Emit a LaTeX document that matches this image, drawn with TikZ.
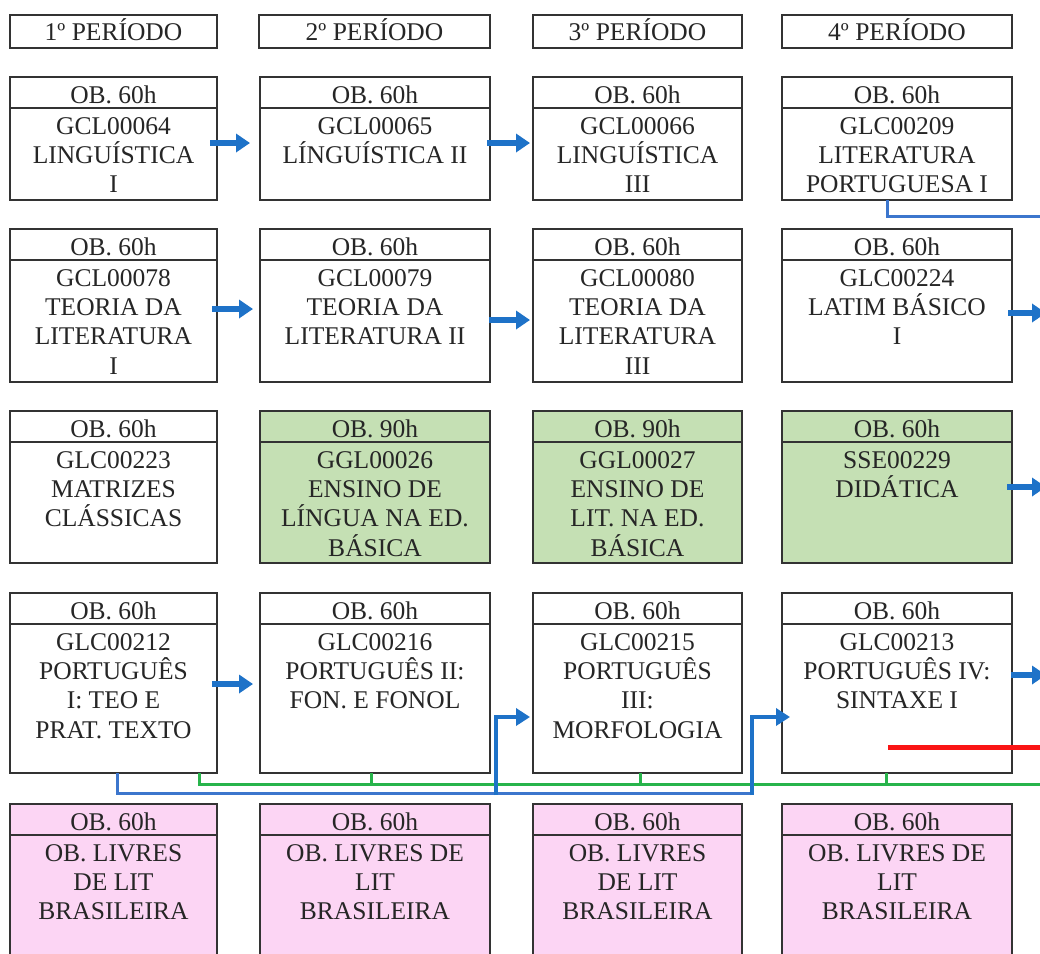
\documentclass[tikz,border=0pt]{standalone}
\usepackage{fontspec}
\setmainfont{Liberation Serif}
\usetikzlibrary{arrows.meta,calc}
\definecolor{arrowblue}{RGB}{30,114,200}
\definecolor{lineblue}{RGB}{60,118,205}
\definecolor{linegreen}{RGB}{40,180,75}
\definecolor{cgreen}{RGB}{197,224,180}
\definecolor{cpink}{RGB}{252,213,244}
\definecolor{cred}{RGB}{250,20,20}
\tikzset{
  cbox/.style={rectangle, draw=black!80, line width=2.1pt, outer sep=0pt, inner sep=0pt},
  cbord/.style={draw=black!80, line width=2.1pt},
  ctext/.style={font=\fontsize{25.5}{29.3}\selectfont, inner sep=0pt, text=black!85},
  pbox/.style={cbox, fill=white, font=\fontsize{25.5}{29.3}\selectfont, text=black!85, text height=17pt, text depth=0pt},
  barrow/.style={draw=arrowblue, line width=5.5pt, -{Triangle[length=14pt,width=18pt]}},
  belbow/.style={draw=arrowblue, line width=4pt, -{Triangle[length=14pt,width=17pt]}},
  bline/.style={draw=lineblue, line width=3pt},
  gline/.style={draw=linegreen, line width=3pt},
  rline/.style={draw=cred, line width=5pt},
}
% #1 name, #2 x, #3 y top, #4 width, #5 height, #6 fill, #7 hours, #8 body
\newcommand\course[8]{%
  \node[cbox, fill=#6, minimum width=#4pt, minimum height=#5pt, anchor=north west] (#1) at (#2,#3) {};
  \draw[cbord] ([yshift=-31pt]#1.north west) -- ([yshift=-31pt]#1.north east);
  \node[ctext, anchor=base] (#1-h) at ([yshift=-26pt]#1.north) {#7};
  \node[ctext, anchor=north, align=center] (#1-b) at ([yshift=-35pt]#1.north) {\rule{0pt}{22pt}#8};
}
\begin{document}
\begin{tikzpicture}[x=1pt,y=-1pt]
\useasboundingbox (0,0) rectangle (1040,953);
\fill[white] (0,0) rectangle (1040,953);
\clip (0,0) rectangle (1040,953);

% period headers
\node[pbox, minimum width=207pt, minimum height=33pt, anchor=north west] (h1) at (10,15) {1º PERÍODO};
\node[pbox, minimum width=231pt, minimum height=33pt, anchor=north west] (h2) at (259,15) {2º PERÍODO};
\node[pbox, minimum width=209pt, minimum height=33pt, anchor=north west] (h3) at (533,15) {3º PERÍODO};
\node[pbox, minimum width=230pt, minimum height=33pt, anchor=north west] (h4) at (782,15) {4º PERÍODO};

% row 1
\course{r1c1}{10}{77}{207}{123}{white}{OB. 60h}{GCL00064\\LINGUÍSTICA\\I}
\course{r1c2}{260}{77}{230}{123}{white}{OB. 60h}{GCL00065\\LÍNGUÍSTICA II}
\course{r1c3}{533}{77}{209}{123}{white}{OB. 60h}{GCL00066\\LINGUÍSTICA\\III}
\course{r1c4}{782}{77}{230}{123}{white}{OB. 60h}{GLC00209\\LITERATURA\\PORTUGUESA I}
% row 2
\course{r2c1}{10}{229}{207}{153}{white}{OB. 60h}{GCL00078\\TEORIA DA\\LITERATURA\\I}
\course{r2c2}{260}{229}{230}{153}{white}{OB. 60h}{GCL00079\\TEORIA DA\\LITERATURA II}
\course{r2c3}{533}{229}{209}{153}{white}{OB. 60h}{GCL00080\\TEORIA DA\\LITERATURA\\III}
\course{r2c4}{782}{229}{230}{153}{white}{OB. 60h}{GLC00224\\LATIM BÁSICO\\I}
% row 3
\course{r3c1}{10}{411}{207}{152}{white}{OB. 60h}{GLC00223\\MATRIZES\\CLÁSSICAS}
\course{r3c2}{260}{411}{230}{152}{cgreen}{OB. 90h}{GGL00026\\ENSINO DE\\LÍNGUA NA ED.\\BÁSICA}
\course{r3c3}{533}{411}{209}{152}{cgreen}{OB. 90h}{GGL00027\\ENSINO DE\\LIT. NA ED.\\BÁSICA}
\course{r3c4}{782}{411}{230}{152}{cgreen}{OB. 60h}{SSE00229\\DIDÁTICA}
% row 4
\course{r4c1}{10}{593}{207}{180}{white}{OB. 60h}{GLC00212\\PORTUGUÊS\\I: TEO E\\PRAT. TEXTO}
\course{r4c2}{260}{593}{230}{180}{white}{OB. 60h}{GLC00216\\PORTUGUÊS II:\\FON. E FONOL}
\course{r4c3}{533}{593}{209}{180}{white}{OB. 60h}{GLC00215\\PORTUGUÊS\\III:\\MORFOLOGIA}
\course{r4c4}{782}{593}{230}{180}{white}{OB. 60h}{GLC00213\\PORTUGUÊS IV:\\SINTAXE I}
% row 5
\course{r5c1}{10}{804}{207}{200}{cpink}{OB. 60h}{OB. LIVRES\\DE LIT\\BRASILEIRA}
\course{r5c2}{260}{804}{230}{200}{cpink}{OB. 60h}{OB. LIVRES DE\\LIT\\BRASILEIRA}
\course{r5c3}{533}{804}{209}{200}{cpink}{OB. 60h}{OB. LIVRES\\DE LIT\\BRASILEIRA}
\course{r5c4}{782}{804}{230}{200}{cpink}{OB. 60h}{OB. LIVRES DE\\LIT\\BRASILEIRA}

% free ends at the right edge
\coordinate (o2) at (1046,313);
\coordinate (o3) at (1046,487);
\coordinate (o4) at (1046,675);
\coordinate (t1) at (1046,216);
\coordinate (g)  at (1046,784);
\coordinate (rr) at (1046,747);
\coordinate (j1) at (496,795);
\coordinate (j2) at (752,795);
\coordinate (jb) at (754,793);

% straight arrows
\draw[barrow] ([xshift=-7pt,yshift=-4.5pt]r1c1.east) -- ([xshift=-10pt,yshift=-4.5pt]r1c2.west);
\draw[barrow] ([xshift=-3pt,yshift=-4.5pt]r1c2.east) -- ([xshift=-3pt,yshift=-4.5pt]r1c3.west);
\draw[barrow] ([xshift=-5pt,yshift=-3.5pt]r2c1.east) -- ([xshift=-7pt,yshift=-3.5pt]r2c2.west);
\draw[barrow] ([xshift=-1pt,yshift=-14.5pt]r2c2.east) -- ([xshift=-3pt,yshift=-14.5pt]r2c3.west);
\draw[barrow] ([xshift=-4pt,yshift=-7.5pt]r2c4.east) -- (o2);
\draw[barrow] ([xshift=-5pt]r3c4.east) -- (o3);
\draw[barrow] ([xshift=-5pt,yshift=-1pt]r4c1.east) -- ([xshift=-7pt,yshift=-1pt]r4c2.west);
\draw[barrow] ([xshift=-1pt,yshift=8pt]r4c4.east) -- (o4);

% lines
\draw[bline] ([xshift=-10pt]r1c4.south) |- (t1);
\draw[gline] ([xshift=85.5pt]r4c1.south) |- (g);
\draw[gline] ([xshift=-4pt]r4c2.south) -- ++(0,-11pt);
\draw[gline] ([xshift=2.5pt]r4c3.south) -- ++(0,-11pt);
\draw[gline] ([xshift=-11pt]r4c4.south) -- ++(0,-11pt);
\draw[bline] ([xshift=3.5pt]r4c1.south) |- (jb);
\draw[belbow] (j1) |- ([xshift=-3pt,yshift=-34pt]r4c3.west);
\draw[belbow] (j2) |- ([xshift=8pt,yshift=-34pt]r4c4.west);
\draw[rline] ([xshift=-9pt,yshift=26pt]r4c4.south) -- (rr);
\end{tikzpicture}
\end{document}
